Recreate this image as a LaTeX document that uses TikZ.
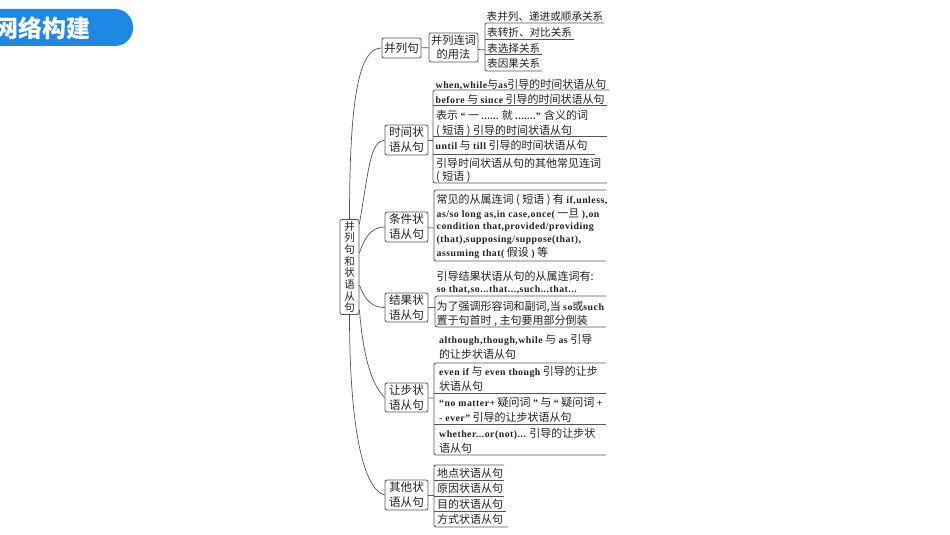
\documentclass[tikz,border=0pt]{standalone}
\usepackage{fontspec}
\setmainfont{Noto Sans CJK SC}
\newfontfamily\enf[LetterSpace=5]{Liberation Serif}
\newcommand{\en}[1]{{\enf\bfseries\fontsize{9.8}{11}\selectfont #1}}
\definecolor{barblue}{HTML}{1E88E5}
\definecolor{ink}{HTML}{222222}
\definecolor{rulec}{HTML}{555555}
\tikzset{
  leaf/.style={anchor=west,inner sep=0pt,text=ink,yshift=-0.8pt,font=\fontsize{11}{12}\selectfont},
  leafsmall/.style={leaf,font=\fontsize{10.6}{12}\selectfont},
  topic/.style={draw=rulec,line width=0.8pt,rounded corners=2pt,inner sep=0pt,text=ink,align=center,font=\fontsize{11.6}{15}\selectfont},
  rulepath/.style={draw=rulec,line width=0.8pt,rounded corners=2pt},
  link/.style={draw=rulec,line width=0.7pt},
}
\begin{document}
\begin{tikzpicture}[x=1pt,y=-1pt]
\clip (0,0) rectangle (950,535);
\fill[white] (0,0) rectangle (950,535);
% header
\fill[barblue,rounded corners=18pt] (-30,9) rectangle (133,46);
\node[anchor=west,inner sep=0pt,text=white,font=\fontsize{24}{26}\selectfont\bfseries] (hdr) at (-6,28) {网络构建};
% root and topics
\node[topic,minimum width=19pt,minimum height=95pt,font=\fontsize{10.5}{11.7}\selectfont] (root) at (349.5,267) {并\\列\\句\\和\\状\\语\\从\\句};
\node[topic,minimum width=39pt,minimum height=20pt] (t1) at (401.5,48) {并列句};
\node[topic,minimum width=49pt,minimum height=29pt,font=\fontsize{11.2}{14.5}\selectfont] (t1b) at (453.5,47.5) {并列连词\\的用法};
\node[topic,minimum width=43pt,minimum height=30pt] (t2) at (406.5,140) {时间状\\语从句};
\node[topic,minimum width=43pt,minimum height=30pt] (t3) at (406.5,227) {条件状\\语从句};
\node[topic,minimum width=43pt,minimum height=29pt] (t4) at (406.5,307.5) {结果状\\语从句};
\node[topic,minimum width=43pt,minimum height=29pt] (t5) at (406.5,397.5) {让步状\\语从句};
\node[topic,minimum width=43pt,minimum height=30pt] (t6) at (406.5,495) {其他状\\语从句};
% root connectors
\draw[link] (root.north) .. controls +(0,-125) and +(-22,0) .. (t1.west);
\draw[link] (root.77) .. controls +(10,-60) and +(-14,2) .. (t2.west);
\draw[link] (root.east |- 0,253) .. controls +(6,-18) and +(-12,0) .. (t3.west);
\draw[link] (root.east |- 0,285) .. controls +(6,16) and +(-12,0) .. (t4.west);
\draw[link] (root.-77) .. controls +(4,50) and +(-12,-12) .. (t5.west);
\draw[link] (root.south) .. controls +(0,110) and +(-22,-6) .. (t6.west);
% group anchors
\coordinate (g1) at (485,50);
\coordinate (g2) at (433,140);
\coordinate (g3) at (434,228);
\coordinate (g4) at (435,307.5);
\coordinate (g5) at (434,398);
\coordinate (g6) at (434,495);
\draw[link] (t1) -- (t1b);
\draw[link] (t1b) -- (g1);
\draw[link] (t2) -- (g2);
\draw[link] (t3) -- (g3);
\draw[link] (t4) -- (g4);
\draw[link] (t5) -- (g5);
\draw[link] (t6) -- (g6);
\path[rulepath] (604,23) -- (485,23) -- (485,71) -- (542,71);
\path[rulepath,sharp corners] (485,39) -- (574,39) (485,54) -- (542,54);
\path[rulepath] (609,90) -- (433,90) -- (433,183) -- (607,183);
\path[rulepath,sharp corners] (433,105) -- (607,105) (433,136) -- (607,136) (433,154) -- (595,154);
\path[rulepath] (606,190) -- (434,190) -- (434,261) -- (606,261);
\path[rulepath] (606,296) -- (435,296) -- (435,327) -- (606,327);
\path[rulepath] (606,363) -- (434,363) -- (434,455) -- (606,455);
\path[rulepath,sharp corners] (434,393) -- (606,393) (434,424) -- (606,424);
\path[rulepath] (504,465) -- (434,465) -- (434,527) -- (508,527);
\path[rulepath,sharp corners] (434,480) -- (504,480) (434,496) -- (504,496) (434,511) -- (506,511);
% leaves
\node[leafsmall] (a1) at (486.5,16) {表并列、递进或顺承关系};
\node[leafsmall] (a2) at (487,32) {表转折、对比关系};
\node[leafsmall] (a3) at (487,47.5) {表选择关系};
\node[leafsmall] (a4) at (487,62.5) {表因果关系};
\node[leaf] (b1) at (435.5,84) {\en{when,while}与\en{as}引导的时间状语从句};
\node[leaf] (b2) at (435.5,99) {\en{before} 与 \en{since} 引导的时间状语从句};
\node[leaf] (b3) at (436,115) {表示 \en{“} 一 \en{......} 就 \en{.......”} 含义的词};
\node[leaf] (b4) at (436,130) {( 短语 ) 引导的时间状语从句};
\node[leaf] (b5) at (435.5,145) {\en{until} 与 \en{till} 引导的时间状语从句};
\node[leaf] (b6) at (436,163) {引导时间状语从句的其他常见连词};
\node[leaf] (b7) at (436,176) {( 短语 )};
\node[leaf] (c1) at (436.5,199) {常见的从属连词 ( 短语 ) 有 \en{if,unless,}};
\node[leaf] (c2) at (436.5,213) {\en{as/so long as,in case,once(} 一旦 \en{),on}};
\node[leaf] (c3) at (436.5,226) {\en{condition that,provided/providing}};
\node[leaf] (c4) at (436.5,239) {\en{(that),supposing/suppose(that),}};
\node[leaf] (c5) at (436.5,252) {\en{assuming that(} 假设 \en{)} 等};
\node[leaf] (d1) at (436.5,276) {引导结果状语从句的从属连词有:};
\node[leaf] (d2) at (436.5,289) {\en{so that,so...that...,such...that...}};
\node[leaf] (d3) at (436.5,306) {为了强调形容词和副词,当 \en{so}或\en{such}};
\node[leaf] (d4) at (436.5,320) {置于句首时 , 主句要用部分倒装};
\node[leaf] (e1) at (439,339) {\en{although,though,while} 与 \en{as} 引导};
\node[leaf] (e2) at (439,354) {的让步状语从句};
\node[leaf] (e3) at (439,371) {\en{even if} 与 \en{even though} 引导的让步};
\node[leaf] (e4) at (439,386) {状语从句};
\node[leaf] (e5) at (439,402) {\en{“no matter+} 疑问词 \en{”} 与 \en{“} 疑问词 \en{+}};
\node[leaf] (e6) at (439,417) {\en{- ever”} 引导的让步状语从句};
\node[leaf] (e7) at (439,433) {\en{whether...or(not)...} 引导的让步状};
\node[leaf] (e8) at (439,448) {语从句};
\node[leaf] (f1) at (437,473) {地点状语从句};
\node[leaf] (f2) at (437,488) {原因状语从句};
\node[leaf] (f3) at (437,504) {目的状语从句};
\node[leaf] (f4) at (437,519) {方式状语从句};
\end{tikzpicture}
\end{document}
